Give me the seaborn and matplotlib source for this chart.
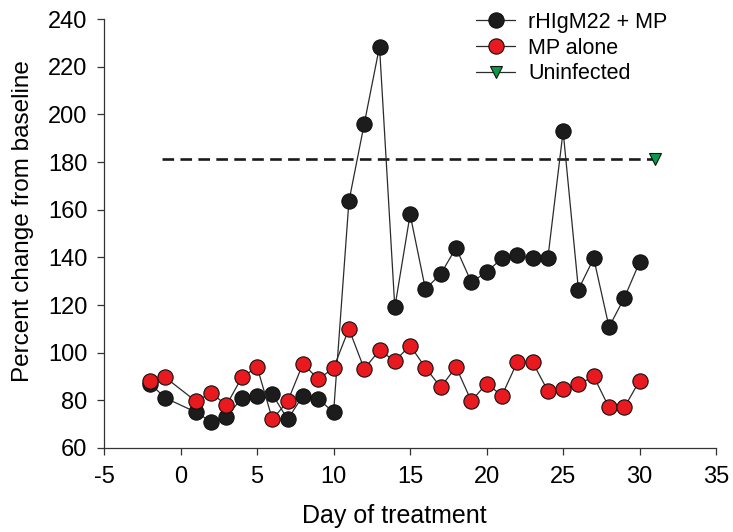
import numpy as np
import pandas as pd
import matplotlib
matplotlib.use('Agg')
import matplotlib.pyplot as plt
import seaborn as sns

# ==========================================
# DATA
# ==========================================
days = [-2, -1] + list(range(1, 31))

rhigm22_mp = [87, 81, 75, 71, 73, 81, 82, 82.5, 72, 82, 80.5, 75,
              163.5, 196, 228.5, 119, 158, 126.7, 133, 144, 129.6, 133.8,
              139.6, 141, 139.6, 139.6, 193, 126.5, 139.6, 110.8, 123, 138]

mp_alone = [88, 89.6, 79.6, 83, 78, 89.6, 94, 72, 79.6, 95.4, 88.8, 93.6,
            110, 93.2, 101, 96.5, 103, 93.7, 85.5, 94, 79.7, 87,
            82, 96, 96, 84, 84.7, 86.7, 90, 77, 77, 88.3]

uninf_day = [31]
uninf_val = [181.5]
uninf_span = [-1.2, 31]

df = pd.DataFrame({'day': days, 'rhigm': rhigm22_mp, 'mp': mp_alone})
df_un = pd.DataFrame({'day': uninf_day, 'val': uninf_val})

# ==========================================
# PLOT
# ==========================================
sns.set_style('ticks')
plt.rcParams['font.family'] = ['Liberation Sans', 'DejaVu Sans']
plt.rcParams['axes.unicode_minus'] = False
plt.rcParams['text.color'] = 'black'
plt.rcParams['axes.labelcolor'] = 'black'

fig = plt.figure(figsize=(7.33, 5.32), dpi=100)
ax = fig.add_axes([0.142, 0.158, 0.835, 0.806])

line_col = '#2b2b2b'

# dashed reference line for uninfected level
ax.plot(uninf_span, [uninf_val[0]] * 2, color='#1a1a1a', lw=1.9,
        dashes=(4.4, 2.4), zorder=1)

sns.lineplot(data=df, x='day', y='rhigm', ax=ax, color=line_col, lw=0.9,
             marker='o', markersize=11, markerfacecolor='#1c1c1c',
             markeredgecolor='#111111', markeredgewidth=0.8,
             label='rHIgM22 + MP', zorder=2)
sns.lineplot(data=df, x='day', y='mp', ax=ax, color=line_col, lw=0.9,
             marker='o', markersize=11, markerfacecolor='#e8191f',
             markeredgecolor='#111111', markeredgewidth=0.8,
             label='MP alone', zorder=3)
sns.lineplot(data=df_un, x='day', y='val', ax=ax, color=line_col, lw=0.9,
             marker='v', markersize=9, markerfacecolor='#0a9a48',
             markeredgecolor='#111111', markeredgewidth=0.8,
             label='Uninfected', zorder=4)

ax.set_xlim(-5, 35)
ax.set_ylim(60, 240)
ax.set_xticks(np.arange(-5, 36, 5))
ax.set_yticks(np.arange(60, 241, 20))
ax.tick_params(axis='both', labelsize=17, length=5, width=0.9,
               color='#333333', labelcolor='black', direction='out')
ax.tick_params(axis='x', pad=8)
ax.tick_params(axis='y', pad=7)
for s in ['left', 'bottom']:
    ax.spines[s].set_linewidth(0.9)
    ax.spines[s].set_color('#333333')
sns.despine(ax=ax)

ax.set_xlabel('Day of treatment', fontsize=18, color='black')
ax.set_ylabel('Percent change from baseline', fontsize=17.5, color='black')
ax.xaxis.set_label_coords(0.474, -0.131)
ax.yaxis.set_label_coords(-0.114, 0.529)

ax.legend(loc='upper left', bbox_to_anchor=(0.608, 1.017), frameon=False,
          fontsize=15.5, handlelength=1.8, handletextpad=0.6,
          labelspacing=0.22, borderpad=0, borderaxespad=0)

fig.savefig('out.png', dpi=100, facecolor='white')
